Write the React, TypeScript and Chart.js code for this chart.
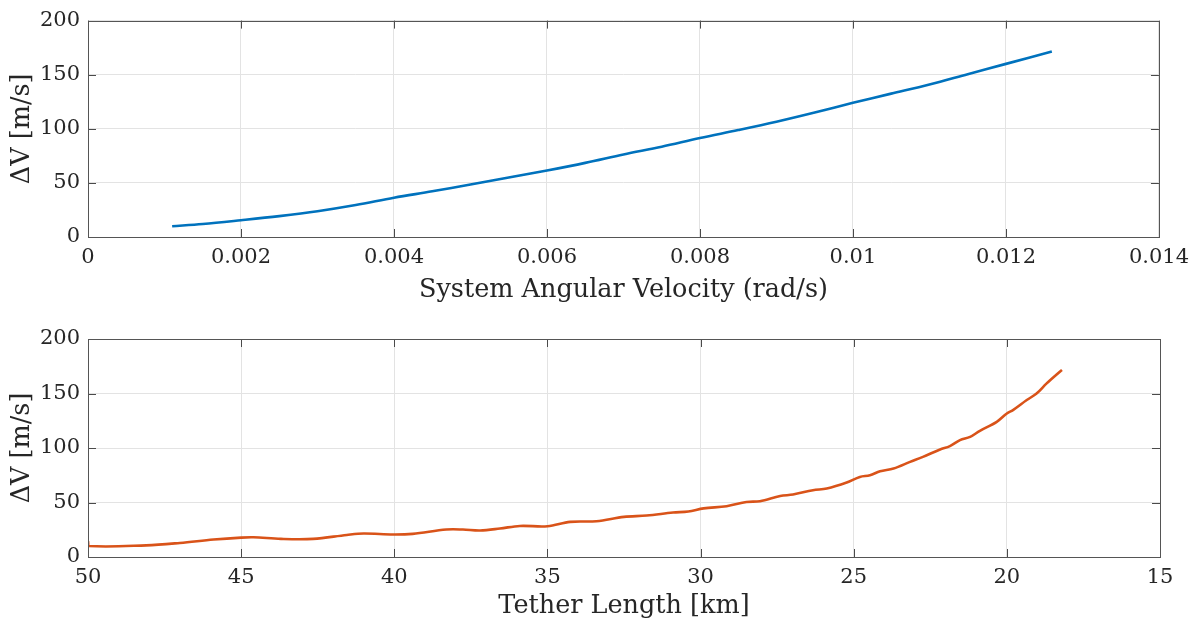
import React, { useEffect, useRef } from "react";
import { Chart, registerables } from "chart.js";

Chart.register(...registerables);

// Top panel: system angular velocity (rad/s) vs ΔV (m/s)
const omegaValues = [0.0011, 0.0015, 0.002, 0.0025, 0.003, 0.0035, 0.004, 0.0045, 0.005, 0.0055, 0.006, 0.0065, 0.007, 0.0075, 0.008, 0.0085, 0.009, 0.0095, 0.01, 0.0105, 0.011, 0.0115, 0.012, 0.0126];
const omegaDeltaV = [10, 12, 15.5, 19.3, 23.8, 29.5, 36.3, 42.2, 48.5, 55, 61.5, 68.5, 76.3, 83.5, 91.5, 98.8, 106.5, 115, 124, 132.5, 141, 150.5, 160, 171.5];

// Bottom panel: tether length (km) vs ΔV (m/s)
const tetherLength = [50, 49.97, 48.1, 47.0, 45.9, 45.0, 44.6, 43.7, 42.65, 41.55, 41.0, 40.04, 39.4, 38.3, 37.76, 37.2, 36.55, 35.9, 35.0, 34.26, 33.4, 32.5, 31.76, 30.9, 30.4, 29.9, 29.15, 28.5, 28.06, 27.4, 26.98, 26.33, 25.88, 25.23, 24.8, 24.47, 24.14, 23.7, 23.16, 22.74, 22.18, 21.86, 21.53, 21.2, 20.88, 20.33, 20.0, 19.8, 19.35, 19.03, 18.7, 18.27, 18.2];
const tetherDeltaV = [14.5, 10.1, 10.7, 12.9, 16.0, 17.8, 18.1, 16.6, 16.6, 20.2, 21.5, 20.6, 21.2, 25.2, 25.2, 24.3, 26.1, 28.5, 28.2, 32.2, 32.8, 36.8, 38.0, 40.8, 41.8, 44.6, 46.6, 50.5, 51.2, 56.0, 57.3, 61.3, 62.8, 68.3, 73.5, 75.0, 78.7, 81.2, 87.3, 91.9, 98.6, 101.7, 107.2, 110.2, 115.8, 124.0, 131.7, 134.8, 144.0, 150.0, 159.3, 170.0, 171.6];

const yTicks = [0, 50, 100, 150, 200];
const topXTicks = [0, 0.002, 0.004, 0.006, 0.008, 0.01, 0.012, 0.014];
const bottomXTicks = [50, 45, 40, 35, 30, 25, 20, 15];

const FONT = "'DejaVu Serif', 'Liberation Serif', serif";
const TEXT = "#262626";

const boxTicksPlugin = {
  id: "boxTicks",
  afterDraw(chart: any) {
    const { ctx, chartArea } = chart;
    const { left, right, top, bottom } = chartArea;
    const xs = chart.scales.x;
    const ys = chart.scales.y;
    const len = 8;
    ctx.save();
    ctx.strokeStyle = "#4a4a4a";
    ctx.lineWidth = 1;
    ctx.beginPath();
    xs.ticks.forEach((t: any) => {
      const px = Math.round(xs.getPixelForValue(t.value)) + 0.5;
      ctx.moveTo(px, bottom);
      ctx.lineTo(px, bottom - len);
      ctx.moveTo(px, top);
      ctx.lineTo(px, top + len);
    });
    ys.ticks.forEach((t: any) => {
      const py = Math.round(ys.getPixelForValue(t.value)) + 0.5;
      ctx.moveTo(left, py);
      ctx.lineTo(left + len, py);
      ctx.moveTo(right, py);
      ctx.lineTo(right - len, py);
    });
    ctx.stroke();
    ctx.strokeStyle = "#555555";
    ctx.strokeRect(Math.round(left) + 0.5, Math.round(top) + 0.5, Math.round(right - left), Math.round(bottom - top));
    ctx.restore();
  },
};

function fmt(v: number) {
  return String(parseFloat(Number(v).toFixed(4)));
}

function makeConfig(opts: {
  xs: number[];
  ys: number[];
  color: string;
  xMin: number;
  xMax: number;
  step: number;
  reverse: boolean;
  xTitle: string;
  xTickVals: number[];
  padTop: number;
  xAxisHeight: number;
  xTitlePad: number;
}) {
  const data = opts.xs.map((x, i) => ({ x, y: opts.ys[i] }));
  return {
    type: "line" as const,
    data: {
      datasets: [
        {
          data,
          borderColor: opts.color,
          borderWidth: 2.6,
          pointRadius: 0,
          tension: 0.35,
          fill: false,
        },
      ],
    },
    options: {
      animation: false,
      responsive: false,
      maintainAspectRatio: false,
      layout: { padding: { left: 0, right: 37, top: opts.padTop, bottom: 0 } },
      plugins: { legend: { display: false }, tooltip: { enabled: false } },
      scales: {
        x: {
          type: "linear",
          min: opts.xMin,
          max: opts.xMax,
          reverse: opts.reverse,
          afterBuildTicks(scale: any) {
            scale.ticks = opts.xTickVals.map((v) => ({ value: v }));
          },
          afterFit(scale: any) {
            scale.height = opts.xAxisHeight;
          },
          ticks: {
            stepSize: opts.step,
            autoSkip: false,
            maxRotation: 0,
            padding: 8,
            color: TEXT,
            font: { family: FONT, size: 21 },
            callback: (v: number) => fmt(v),
          },
          grid: { color: "#e3e3e3", lineWidth: 1, drawTicks: false },
          border: { display: false },
          title: {
            display: true,
            text: opts.xTitle,
            color: TEXT,
            font: { family: FONT, size: 25.5 },
            padding: { top: 0, bottom: opts.xTitlePad },
          },
        },
        y: {
          type: "linear",
          min: 0,
          max: 200,
          afterBuildTicks(scale: any) {
            scale.ticks = yTicks.map((v) => ({ value: v }));
          },
          afterFit(scale: any) {
            scale.width = 88;
          },
          ticks: {
            stepSize: 50,
            padding: 8,
            color: TEXT,
            font: { family: FONT, size: 21 },
          },
          grid: { color: "#e3e3e3", lineWidth: 1, drawTicks: false },
          border: { display: false },
          title: {
            display: true,
            text: "ΔV [m/s]",
            color: TEXT,
            font: { family: FONT, size: 25.5 },
            padding: { top: 7, bottom: 0 },
          },
        },
      },
    },
    plugins: [boxTicksPlugin],
  };
}

function ChartPanel(props: { config: any; top: number }) {
  const ref = useRef<HTMLCanvasElement>(null);
  useEffect(() => {
    if (!ref.current) return;
    const chart = new Chart(ref.current, props.config);
    return () => chart.destroy();
  }, []);
  return (
    <div style={{ position: "absolute", left: 0, top: props.top, width: 1197, height: 312 }}>
      <canvas ref={ref} width={1197} height={312} style={{ width: 1197, height: 312 }} />
    </div>
  );
}

export default function App() {
  const topCfg = makeConfig({
    xs: omegaValues,
    ys: omegaDeltaV,
    color: "#0072BD",
    xMin: 0,
    xMax: 0.014,
    step: 0.002,
    reverse: false,
    xTitle: "System Angular Velocity (rad/s)",
    xTickVals: topXTicks,
    padTop: 19,
    xAxisHeight: 75,
    xTitlePad: 6,
  });
  const bottomCfg = makeConfig({
    xs: tetherLength,
    ys: tetherDeltaV,
    color: "#D95319",
    xMin: 15,
    xMax: 50,
    step: 5,
    reverse: true,
    xTitle: "Tether Length [km]",
    xTickVals: bottomXTicks,
    padTop: 27,
    xAxisHeight: 67,
    xTitlePad: 2,
  });
  return (
    <div style={{ position: "fixed", left: 0, top: 0, width: 1197, height: 624, background: "#fff" }}>
      <ChartPanel config={topCfg} top={0} />
      <ChartPanel config={bottomCfg} top={312} />
    </div>
  );
}
